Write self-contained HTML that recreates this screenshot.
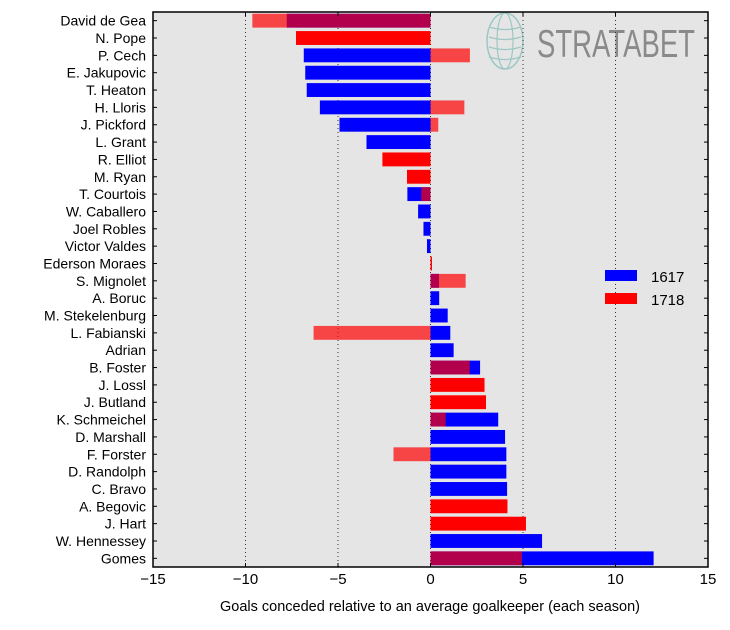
<!DOCTYPE html>
<html><head><meta charset="utf-8"><style>
body{margin:0;background:#fff;}
svg text{font-family:"Liberation Sans","DejaVu Sans",sans-serif;}
</style></head><body>
<svg id="chart" width="730" height="625" xmlns="http://www.w3.org/2000/svg"></svg>
<script>
const keepers=["David de Gea","N. Pope","P. Cech","E. Jakupovic","T. Heaton","H. Lloris","J. Pickford","L. Grant","R. Elliot","M. Ryan","T. Courtois","W. Caballero","Joel Robles","Victor Valdes","Ederson Moraes","S. Mignolet","A. Boruc","M. Stekelenburg","L. Fabianski","Adrian","B. Foster","J. Lossl","J. Butland","K. Schmeichel","D. Marshall","F. Forster","D. Randolph","C. Bravo","A. Begovic","J. Hart","W. Hennessey","Gomes"];
const season1617=[-7.77,null,-6.85,-6.77,-6.69,-5.98,-4.92,-3.46,null,null,-1.25,-0.67,-0.38,-0.19,null,0.46,0.47,0.93,1.07,1.25,2.68,null,null,3.66,4.03,4.1,4.1,4.14,null,null,6.03,12.06];
const season1718=[-9.63,-7.27,2.13,null,null,1.83,0.42,null,-2.6,-1.27,-0.5,null,null,null,0.08,1.9,null,null,-6.32,null,2.12,2.92,3.0,0.82,null,-2.0,null,null,4.16,5.16,null,4.94];
const xTicks=[-15,-10,-5,0,5,10,15];
const xTickLabels=["\u221215","\u221210","\u22125","0","5","10","15"];

const NS="http://www.w3.org/2000/svg";
const svg=document.getElementById('chart');
const L=153,R=708,T=12,B=567;
const xMin=-15,xMax=15;
function xs(v){return L+(v-xMin)/(xMax-xMin)*(R-L);}
const rowH=(B-T)/keepers.length;
function yc(i){return T+rowH*(i+0.5);}
function mk(tag,attrs,parent){const e=document.createElementNS(NS,tag);for(const k in attrs)e.setAttribute(k,attrs[k]);(parent||svg).appendChild(e);return e;}

const bg=mk('rect',{x:L,y:T,width:R-L,height:B-T,fill:'#e5e5e5'});



// watermark
const wm=mk('g',{});


mk('ellipse',{cx:505,cy:41,rx:18,ry:28,fill:'none',stroke:'#9cc8c4','stroke-width':1.5},wm);
mk('ellipse',{cx:505,cy:41,rx:8,ry:28,fill:'none',stroke:'#9cc8c4','stroke-width':1.2},wm);
for(const dy of [-14,-4,6,16]){mk('path',{d:`M489 ${41+dy} Q505 ${41+dy+5} 521 ${41+dy}`,fill:'none',stroke:'#9cc8c4','stroke-width':1.2},wm);}
const wt=mk('text',{x:537,y:57,'font-size':39,fill:'#8a8a8a',textLength:158,lengthAdjust:'spacingAndGlyphs'},wm);
wt.textContent='STRATABET';

// grid
xTicks.forEach((t,i)=>{
  if(t>xMin&&t<xMax){const g=mk('line',{x1:xs(t),x2:xs(t),y1:T,y2:B,stroke:'#333','stroke-width':1,'stroke-dasharray':'1,3'});
  
  }
});

// bars
const bh=rowH*0.8;
keepers.forEach((k,i)=>{
  const b=season1617[i],r=season1718[i];
  if(b!==null){const e=mk('rect',{x:Math.min(xs(0),xs(b)),y:yc(i)-bh/2,width:Math.abs(xs(b)-xs(0)),height:bh,fill:'#0000ff'});
    
    }
  if(r!==null){const e=mk('rect',{x:Math.min(xs(0),xs(r)),y:yc(i)-bh/2,width:Math.max(1,Math.abs(xs(r)-xs(0))),height:bh,fill:'#ff0000','fill-opacity':b===null?1:0.7});
    
    }
  const lab=mk('text',{x:146,y:yc(i)+5,'font-size':14,'text-anchor':'end',fill:'#000'});
  lab.textContent=k;
  
  
  mk('line',{x1:L,x2:L+4,y1:yc(i),y2:yc(i),stroke:'#000'});
  mk('line',{x1:R-4,x2:R,y1:yc(i),y2:yc(i),stroke:'#000'});
});

// axes frame
const fr=mk('rect',{x:L,y:T,width:R-L,height:B-T,fill:'none',stroke:'#000','stroke-width':1.5});


xTicks.forEach((t,i)=>{
  mk('line',{x1:xs(t),x2:xs(t),y1:B,y2:B-4,stroke:'#000'});
  mk('line',{x1:xs(t),x2:xs(t),y1:T,y2:T+4,stroke:'#000'});
  const tl=mk('text',{x:xs(t),y:584,'font-size':15,'text-anchor':'middle',fill:'#000'});
  tl.textContent=xTickLabels[i];
  
  
});
const xt=mk('text',{x:430,y:611,'font-size':14.5,'text-anchor':'middle',fill:'#000'});
xt.textContent='Goals conceded relative to an average goalkeeper (each season)';



// legend
const lg=mk('g',{});


const l1=mk('rect',{x:605,y:270,width:32,height:11,fill:'#0000ff'},lg);
const t1=mk('text',{x:651,y:282,'font-size':15,fill:'#000'},lg);t1.textContent='1617';
const l2=mk('rect',{x:605,y:293,width:32,height:11,fill:'#ff0000'},lg);
const t2=mk('text',{x:651,y:305,'font-size':15,fill:'#000'},lg);t2.textContent='1718';
</script>
</body></html>
